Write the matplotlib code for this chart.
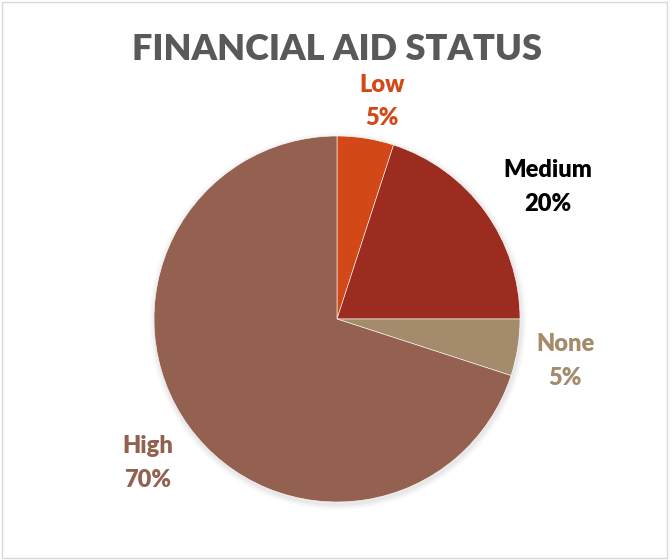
import numpy as np
import matplotlib.pyplot as plt
from matplotlib.patches import Rectangle

categories = ['Low', 'Medium', 'None', 'High']
shares = [5, 20, 5, 70]
colors = ['#D24817', '#9B2C1F', '#A38B6B', '#946151']
label_colors = ['#D24817', '#000000', '#A38B6B', '#946151']
# label placement: distance from centre (in radii) and angle nudge from the wedge middle
label_dist = [1.214, 1.36, 1.267, 1.298]
label_nudge = [-2.7, -4.0, -1.4, 1.3]

W, H = 672, 560
cx, cy, R = 337, 319, 183

fig = plt.figure(figsize=(W / 100, H / 100), dpi=100)
ax = fig.add_axes([0, 0, 1, 1])

# soft shadow round the pie
for i, a in enumerate([0.03, 0.025, 0.02, 0.015]):
    ax.add_patch(plt.Circle((0.005, -0.012), 1 + 0.008 * (i + 1), color='black', alpha=a, lw=0))

wedges, _ = ax.pie(shares, colors=colors, startangle=90, counterclock=False,
                   radius=1, center=(0, 0), frame=True,
                   wedgeprops=dict(edgecolor='white', linewidth=0.4))
ax.set_xlim(-cx / R, (W - cx) / R)
ax.set_ylim((cy - H) / R, cy / R)
ax.set_aspect('equal')
ax.axis('off')

for w, name, pct, c, d, n in zip(wedges, categories, shares, label_colors, label_dist, label_nudge):
    ang = np.deg2rad((w.theta1 + w.theta2) / 2 + n)
    ax.text(d * np.cos(ang), d * np.sin(ang), f'{name}\n{pct}%', ha='center', va='center',
            color=c, fontsize=17, fontweight='heavy', family='Lato', linespacing=1.65)

fig.text(337 / W, 1 - 50 / H, 'FINANCIAL AID STATUS', ha='center', va='center',
         color='#595959', fontsize=26, fontweight='heavy', family='Lato')

fig.patches.append(Rectangle((2 / W, 2 / H), (W - 7) / W, (H - 4) / H, transform=fig.transFigure,
                             fill=False, edgecolor='#D9D9D9', linewidth=1))

fig.savefig('out.png', dpi=100)
